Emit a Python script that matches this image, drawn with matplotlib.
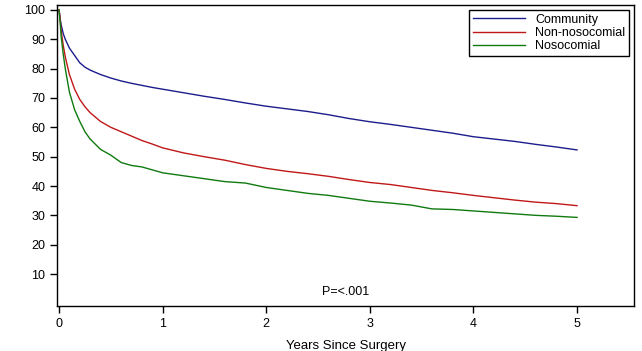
import matplotlib.pyplot as plt

plt.rcParams['font.family'] = ['Liberation Sans', 'DejaVu Sans']

years = [0, 0.01, 0.02, 0.03, 0.04, 0.06, 0.08, 0.1, 0.15, 0.2, 0.25, 0.3, 0.4, 0.5, 0.6, 0.7,
         0.8, 0.9, 1.0, 1.2, 1.4, 1.6, 1.8, 2.0, 2.2, 2.4, 2.6, 2.8, 3.0, 3.2, 3.4, 3.6, 3.8,
         4.0, 4.2, 4.4, 4.6, 4.8, 5.0]
community = [100, 97, 95, 93.5, 92, 90, 88.5, 87, 84.5, 82, 80.5, 79.5, 78, 76.8, 75.8, 75,
             74.3, 73.6, 73, 71.8, 70.6, 69.5, 68.3, 67.2, 66.3, 65.4, 64.3, 63, 61.9, 61, 60, 59, 58,
             56.8, 56, 55.2, 54.2, 53.3, 52.3]
non_nosocomial = [100, 97, 93, 90.5, 88, 84, 81, 78, 73, 69.5, 67, 65, 62, 60, 58.5, 57,
                  55.5, 54.3, 53, 51.3, 50, 48.8, 47.3, 46, 45, 44.2, 43.3, 42.2, 41.2, 40.5, 39.5, 38.5, 37.7,
                  36.8, 36, 35.2, 34.5, 34, 33.3]
nosocomial = [100, 96, 91, 88, 85, 80, 76, 72, 66, 62, 58.5, 56, 52.5, 50.5, 48, 47,
              46.5, 45.5, 44.5, 43.5, 42.5, 41.5, 41, 39.5, 38.5, 37.5, 36.8, 35.8, 34.8, 34.2, 33.5, 32.2, 32,
              31.5, 31, 30.5, 30, 29.7, 29.3]

fig = plt.figure(figsize=(6.42, 3.51), dpi=100)
ax = fig.add_axes([57 / 642, 1 - 306 / 351, 577 / 642, 301 / 351])

ax.plot(years, community, color='#1c1c8c', lw=1, label='Community')
ax.plot(years, non_nosocomial, color='#c01818', lw=1, label='Non-nosocomial')
ax.plot(years, nosocomial, color='#107a10', lw=1, label='Nosocomial')

ax.set_xlim(-0.02, 5.55)
ax.set_ylim(-0.9, 101.7)
ax.set_xticks([0, 1, 2, 3, 4, 5])
ax.set_yticks(range(10, 101, 10))
ax.tick_params(labelsize=9, length=5, width=1, direction='out')
for s in ax.spines.values():
    s.set_linewidth(1)
ax.set_xlabel('Years Since Surgery', fontsize=9.5, labelpad=7)
ax.text(0.5, 0.025, 'P=<.001', transform=ax.transAxes, ha='center', va='bottom', fontsize=9)

leg = ax.legend(loc='upper right', fontsize=9, handlelength=4.2, borderaxespad=0.4,
                fancybox=False, framealpha=1, labelspacing=0.1, borderpad=0.3)
leg.get_frame().set_edgecolor('black')
leg.get_frame().set_linewidth(1)

fig.savefig('out.png', dpi=100)
